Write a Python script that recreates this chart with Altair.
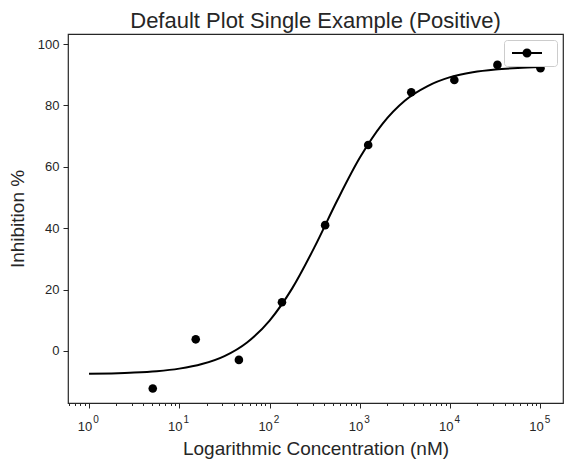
import altair as alt
import pandas as pd

# Measured data points (concentration nM, inhibition %)
conc = [5.08, 15.2, 45.7, 137.0, 412.0, 1235.0, 3704.0, 11111.0, 33333.0, 100000.0]
inhib = [-12.2, 3.8, -2.9, 15.9, 41.0, 67.1, 84.3, 88.3, 93.2, 92.1]

# Fitted curve
curve_x = [1, 1.778, 3.162, 5.623, 10, 17.78, 31.62, 56.23, 100, 177.8, 316.2,
           562.3, 1000, 1778, 3162, 5623, 10000, 17783, 31623, 56234, 100000]
curve_y = [-7.43, -7.29, -7.04, -6.58, -5.74, -4.26, -1.65, 2.79, 9.92, 20.4, 34.0,
           49.1, 63.0, 74.0, 81.6, 86.3, 89.2, 90.8, 91.7, 92.2, 92.5]

major_ticks = [1, 10, 100, 1000, 10000, 100000]
major_exps = ["0", "1", "2", "3", "4", "5"]
minor_ticks = [0.6, 0.7, 0.8, 0.9] + [m * d for d in [1, 10, 100, 1000, 10000] for m in range(2, 10)]
y_ticks = [0, 20, 40, 60, 80, 100]

pts = pd.DataFrame({"conc": conc, "inhib": inhib, "series": [""] * len(conc)})
crv = pd.DataFrame({"conc": curve_x, "inhib": curve_y})
lbl = pd.DataFrame({"conc": major_ticks, "base": ["10"] * len(major_ticks), "exp": major_exps})

FONT = "Liberation Sans"
TXT = "#262626"
W, H = 495, 369

xscale = alt.Scale(type="log", domain=[0.585, 177500], nice=False)
yscale = alt.Scale(domain=[-16.94, 103.26], nice=False, zero=False)

is_major = "abs(log(datum.value)/LN10 - round(log(datum.value)/LN10)) < 0.001"

xaxis = alt.Axis(
    values=major_ticks + minor_ticks,
    title="Logarithmic Concentration (nM)",
    labels=False,
    tickSize={"condition": {"test": is_major, "value": 5}, "value": 2.5},
    tickColor=TXT,
    titleFontSize=19,
    titlePadding=31,
    grid=False,
    domain=False,
)

yaxis = alt.Axis(
    values=y_ticks,
    title="Inhibition %",
    tickSize=5,
    tickColor=TXT,
    labelFontSize=13,
    labelPadding=4,
    titleFontSize=19,
    titlePadding=10,
    grid=False,
    domain=False,
)

line = alt.Chart(crv).mark_line(color="black", strokeWidth=2, interpolate="monotone").encode(
    x=alt.X("conc:Q", scale=xscale, axis=xaxis),
    y=alt.Y("inhib:Q", scale=yscale, axis=yaxis),
)

points = alt.Chart(pts).mark_circle(size=74, opacity=1).encode(
    x=alt.X("conc:Q", scale=xscale),
    y=alt.Y("inhib:Q", scale=yscale),
    color=alt.Color(
        "series:N",
        scale=alt.Scale(range=["black"]),
        legend=alt.Legend(
            title=None,
            orient="top-right",
            offset=6,
            padding=5,
            symbolType="M-3,0H3M-0.7,0A0.7,0.7,0,1,1,0.7,0A0.7,0.7,0,1,1,-0.7,0Z",
            symbolSize=100,
            symbolOffset=10,
            symbolFillColor="black",
            symbolStrokeColor="black",
            symbolStrokeWidth=2,
            labelOffset=17,
            labelFontSize=16,
            strokeColor="#cccccc",
            fillColor="white",
            cornerRadius=3,
        ),
    ),
)

base_lbl = alt.Chart(lbl).mark_text(
    fontSize=13, font=FONT, color=TXT, align="center", baseline="alphabetic", dx=-4
).encode(
    x=alt.X("conc:Q", scale=xscale),
    y=alt.value(H + 28),
    text="base:N",
)

exp_lbl = alt.Chart(lbl).mark_text(
    fontSize=10, font=FONT, color=TXT, align="center", baseline="alphabetic", dx=7
).encode(
    x=alt.X("conc:Q", scale=xscale),
    y=alt.value(H + 20),
    text="exp:N",
)

chart = (
    alt.layer(line, points, base_lbl, exp_lbl)
    .properties(
        width=W,
        height=H,
        title=alt.TitleParams(
            "Default Plot Single Example (Positive)",
            fontSize=22,
            font=FONT,
            fontWeight="normal",
            color=TXT,
            anchor="middle",
            baseline="bottom",
            offset=2,
            dy=23,
        ),
        autosize=alt.AutoSizeParams(type="none"),
        padding={"left": 60, "top": 26, "right": 1, "bottom": 57},
    )
    .configure(font=FONT)
    .configure_view(stroke=TXT, strokeWidth=1.2)
    .configure_axis(labelFont=FONT, titleFont=FONT, labelColor=TXT, titleColor=TXT, titleFontWeight="normal")
)

chart.save("out.html", embed_options={"renderer": "svg", "actions": False})
